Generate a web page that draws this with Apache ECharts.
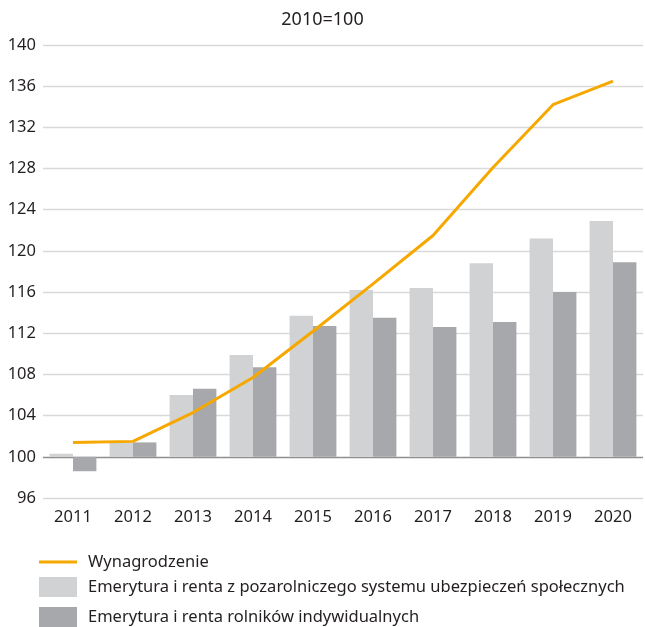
<!DOCTYPE html>
<html lang="pl">
<head>
    <meta charset="UTF-8">
    <title>2010=100</title>
    <style>
        html, body { margin: 0; padding: 0; background: #fff; }
    </style>
</head>
<body>
<script src="https://cdn.jsdelivr.net/npm/echarts@6/dist/echarts.min.js"></script>
<div id="main" style="width: 645px;height:627px;"></div>
<script type="text/javascript">
    // dane (2010=100)
    var years = ['2011', '2012', '2013', '2014', '2015', '2016', '2017', '2018', '2019', '2020'];
    var wynagrodzenie = [101.4, 101.5, 104.3, 107.7, 112.2, 116.8, 121.5, 128.1, 134.2, 136.5];
    var emerytPozarol = [100.3, 101.4, 106.0, 109.9, 113.7, 116.2, 116.4, 118.8, 121.2, 122.9];
    var emerytRolnik = [98.6, 101.4, 106.6, 108.7, 112.7, 113.5, 112.6, 113.1, 116.0, 118.9];
    var yTicks = [96, 100, 104, 108, 112, 116, 120, 124, 128, 132, 136, 140];

    var BASE = 100;
    var names = [
        'Wynagrodzenie',
        'Emerytura i renta z pozarolniczego systemu ubezpieczeń społecznych',
        'Emerytura i renta rolników indywidualnych'
    ];
    var font = 'Noto Sans';
    var txt = '#231f20';

    // słupki rysowane od poziomu 100 -> przesunięcie wartości o bazę
    function shift(arr) {
        return arr.map(function (v) { return +(v - BASE).toFixed(2); });
    }

    var gridColors = yTicks.map(function (t) { return t === BASE ? '#8f8f8f' : '#d9d9d9'; });

    var myChart = echarts.init(document.getElementById('main'));

    function legendAt(name, top, h) {
        return {
            data: [{ name: name, icon: 'rect' }],
            left: 39,
            top: top,
            padding: 0,
            orient: 'vertical',
            itemWidth: 38,
            itemHeight: h,
            selectedMode: false,
            textStyle: { fontFamily: font, fontSize: 16.5, lineHeight: 20, color: txt, padding: [0, 0, 0, 6] }
        };
    }

    var option = {
        animation: false,
        title: {
            text: '2010=100',
            left: 'center',
            top: 6,
            textStyle: { fontFamily: font, fontSize: 18, fontWeight: 'normal', color: txt }
        },
        legend: [
            legendAt(names[0], 552, 3),
            legendAt(names[1], 577, 20),
            legendAt(names[2], 607, 20)
        ],
        grid: { left: 43, right: 2, top: 45, bottom: 129 },
        xAxis: {
            type: 'category',
            data: years,
            axisLine: { show: false },
            axisTick: { show: false },
            axisLabel: { fontFamily: font, fontSize: 16.5, color: txt, margin: 11 }
        },
        yAxis: {
            type: 'value',
            min: yTicks[0] - BASE,
            max: yTicks[yTicks.length - 1] - BASE,
            interval: 4,
            axisLine: { show: false },
            axisTick: { show: false },
            axisLabel: {
                fontFamily: font, fontSize: 16.5, color: txt, margin: 7,
                formatter: function (v) { return v + BASE; }
            },
            splitLine: { lineStyle: { color: gridColors, width: 1.3 } }
        },
        series: [
            {
                name: names[1],
                type: 'bar',
                data: shift(emerytPozarol),
                barGap: '0%',
                barCategoryGap: '22%',
                itemStyle: { color: '#d1d2d4' }
            },
            {
                name: names[2],
                type: 'bar',
                data: shift(emerytRolnik),
                itemStyle: { color: '#a7a8ab' }
            },
            {
                name: names[0],
                type: 'line',
                data: shift(wynagrodzenie),
                symbol: 'none',
                lineStyle: { color: '#f6a800', width: 3 },
                itemStyle: { color: '#f6a800' },
                z: 5
            }
        ]
    };

    myChart.setOption(option);
</script>
</body>
</html>
